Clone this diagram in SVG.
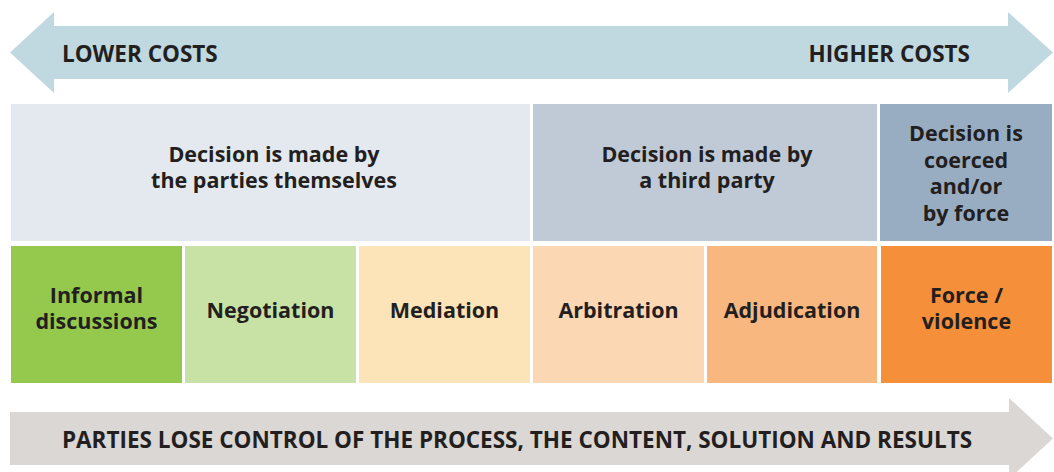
<svg xmlns="http://www.w3.org/2000/svg" width="1054" height="472" viewBox="0 0 1054 472">
<style>
text{font-family:"Open Sans","Liberation Sans",sans-serif;font-weight:700;fill:#231f20;}
.lbl{font-size:21.5px;text-anchor:middle;}
.big{font-size:22.5px;}
</style>
<rect width="1054" height="472" fill="#ffffff"/>
<g id="connectors">
<g id="cost-arrow">
<polygon points="10,52.5 54,12 54,26 1008,26 1008,12 1053,52.5 1008,93 1008,79 54,79 54,93" fill="#c0d9e0"/>
<text class="big" x="62" y="62">LOWER COSTS</text>
<text class="big" x="970" y="62" text-anchor="end">HIGHER COSTS</text>
</g>
<g id="control-arrow">
<polygon points="10,412 1009,412 1009,398 1053,438.5 1009,479 1009,465 10,465" fill="#dbd7d4"/>
<text class="big" x="517" y="448" text-anchor="middle">PARTIES LOSE CONTROL OF THE PROCESS, THE CONTENT, SOLUTION AND RESULTS</text>
</g>
</g>
<g id="decision-parties">
<rect x="11" y="104" width="519" height="137" fill="#e3e9ee"/>
<text class="lbl" x="274" y="162">Decision is made by</text>
<text class="lbl" x="274" y="188">the parties themselves</text>
</g>
<g id="decision-third-party">
<rect x="533" y="104" width="344" height="137" fill="#bfcad6"/>
<text class="lbl" x="707" y="162">Decision is made by</text>
<text class="lbl" x="707" y="188">a third party</text>
</g>
<g id="decision-force">
<rect x="880" y="104" width="172" height="137" fill="#98adc2"/>
<text class="lbl" x="966" y="141">Decision is</text>
<text class="lbl" x="966" y="168">coerced</text>
<text class="lbl" x="966" y="194">and/or</text>
<text class="lbl" x="966" y="221">by force</text>
</g>
<g id="informal">
<rect x="11" y="246" width="171" height="137" fill="#95c94d"/>
<text class="lbl" x="96.5" y="303">Informal</text>
<text class="lbl" x="96.5" y="329">discussions</text>
</g>
<g id="negotiation">
<rect x="185" y="246" width="171" height="137" fill="#c8e2a5"/>
<text class="lbl" x="270.5" y="318">Negotiation</text>
</g>
<g id="mediation">
<rect x="359" y="246" width="171" height="137" fill="#fde4b8"/>
<text class="lbl" x="444.5" y="318">Mediation</text>
</g>
<g id="arbitration">
<rect x="533" y="246" width="171" height="137" fill="#fbd7b4"/>
<text class="lbl" x="618.5" y="318">Arbitration</text>
</g>
<g id="adjudication">
<rect x="707" y="246" width="170" height="137" fill="#f8b77e"/>
<text class="lbl" x="792" y="318">Adjudication</text>
</g>
<g id="force">
<rect x="881" y="246" width="171" height="137" fill="#f58f3a"/>
<text class="lbl" x="966.5" y="303">Force /</text>
<text class="lbl" x="966.5" y="329">violence</text>
</g>
</svg>
